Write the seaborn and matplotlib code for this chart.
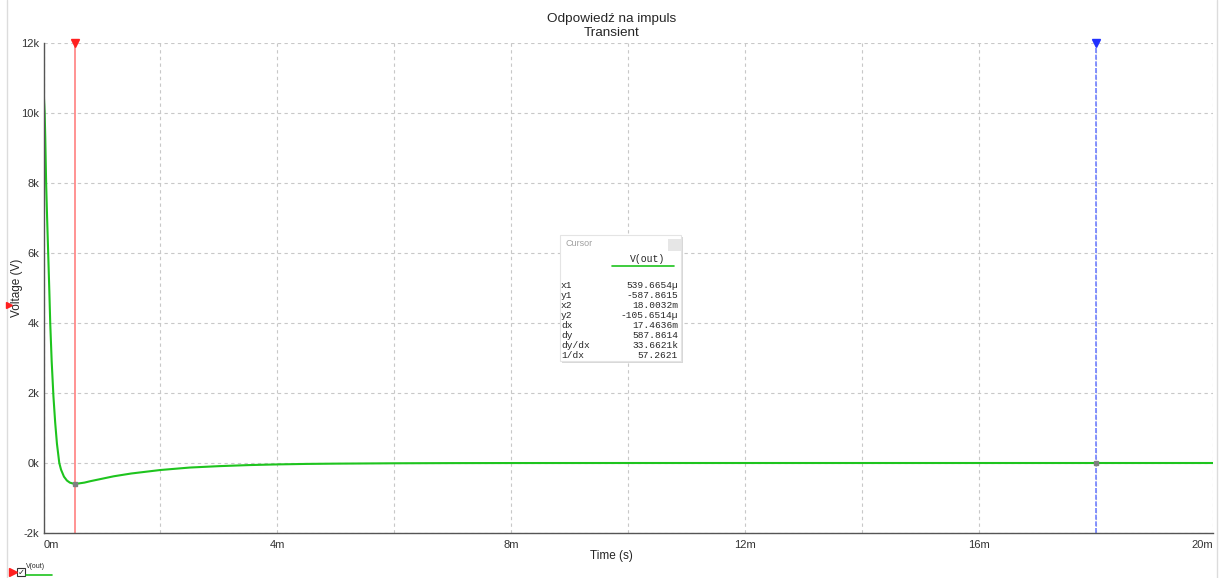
import numpy as np
import matplotlib
matplotlib.use('Agg')
import matplotlib.pyplot as plt
import seaborn as sns
from matplotlib.patches import Rectangle
from matplotlib.lines import Line2D
from matplotlib.ticker import MultipleLocator

## V(out): time in ms, voltage in kV
time_ms = [0, 0.005, 0.01, 0.02, 0.03, 0.045, 0.06, 0.08, 0.10, 0.115, 0.14, 0.17,
           0.20, 0.23, 0.27, 0.30, 0.35, 0.40, 0.45, 0.50, 0.54, 0.60, 0.70, 0.80,
           1.0, 1.2, 1.5, 2.0, 2.5, 3.0, 3.5, 4.0, 4.5, 5.0, 6.0, 7.0, 8.0, 10.0,
           14.0, 20.0]
volt_kv = [10.57, 10.5, 10.35, 10.0, 9.3, 8.0, 7.1, 6.0, 4.9, 4.0, 2.9, 1.9,
           1.15, 0.55, 0.0, -0.19, -0.39, -0.50, -0.56, -0.585, -0.588, -0.585, -0.56, -0.52,
           -0.45, -0.38, -0.30, -0.20, -0.13, -0.09, -0.06, -0.04, -0.026, -0.018, -0.008, -0.003, -0.001, 0.0,
           0.0, 0.0]

## tick positions and labels
x_ticks_ms = [0, 4, 8, 12, 16, 20]
x_tick_labels = ['0m', '4m', '8m', '12m', '16m', '20m']
y_ticks_kv = [-2, 0, 2, 4, 6, 8, 10, 12]
y_tick_labels = ['-2k', '0k', '2k', '4k', '6k', '8k', '10k', '12k']

## cursors (ms, kV) and the cursor panel texts
cursor_t = [0.5396654, 18.0032]
cursor_v = [-0.5878615, 0.0]
cursor_names = ['x1', 'y1', 'x2', 'y2', 'dx', 'dy', 'dy/dx', '1/dx']
cursor_vals = ['539.6654µ', '-587.8615', '18.0032m', '-105.6514µ',
               '17.4636m', '587.8614', '33.6621k', '57.2621']

W, H = 1219, 578
green = '#1ec41e'
mono = ['Liberation Mono', 'DejaVu Sans Mono']

def fx(x):
    return x / W

def fy(y):
    return 1 - y / H

sns.set_style("white")
plt.rcParams['font.family'] = ['Liberation Sans', 'DejaVu Sans']

fig = plt.figure(figsize=(W / 100, H / 100), dpi=100)
ax = fig.add_axes([fx(43.5), fy(533), (1213 - 43.5) / W, (533 - 43) / H])

t = np.array(time_ms) / 1000.0
v = np.array(volt_kv) * 1000.0
sns.lineplot(x=t, y=v, ax=ax, color=green, linewidth=1.5)

ax.set_xlim(0, 0.02)
ax.set_ylim(-2000, 12000)
ax.set_xticks(np.array(x_ticks_ms) / 1000.0, x_tick_labels)
ax.set_yticks(np.array(y_ticks_kv) * 1000.0, y_tick_labels)
ax.xaxis.set_minor_locator(MultipleLocator(0.002))
ax.grid(True, which='both', linestyle=(0, (3, 3)), color='#c8c8c8', linewidth=0.8)
ax.tick_params(which='both', length=0, labelsize=8, labelcolor='#333333')
ax.tick_params(axis='y', pad=3)
ax.tick_params(axis='x', pad=5)
for s in ['top', 'right']:
    ax.spines[s].set_visible(False)
for s in ['left', 'bottom']:
    ax.spines[s].set_color('#555555')
    ax.spines[s].set_linewidth(1.0)
ax.set_xlabel('')
ax.set_ylabel('')

xlabels = ax.get_xticklabels()
xlabels[0].set_horizontalalignment('left')
xlabels[-1].set_horizontalalignment('right')

## cursors
ax.axvline(cursor_t[0] / 1000, color='#ff8080', linewidth=1.2)
ax.axvline(cursor_t[1] / 1000, color='#7080ff', linewidth=1.2, linestyle=(0, (3, 1)))
ax.plot(cursor_t[0] / 1000, 12000, marker='v', color='#ff2020', markersize=5.5, clip_on=False)
ax.plot(cursor_t[1] / 1000, 12000, marker='v', color='#2030ff', markersize=5.5, clip_on=False)
for ct, cv in zip(cursor_t, cursor_v):
    ax.plot(ct / 1000, cv * 1000, marker='s', color='#808080', markersize=3)

## titles and labels
fig.text(fx(612), fy(19), 'Odpowiedź na impuls', ha='center', va='center', fontsize=9.7)
fig.text(fx(612), fy(33), 'Transient', ha='center', va='center', fontsize=9.7)
fig.text(fx(611), fy(556), 'Time (s)', ha='center', va='center', fontsize=8.5)
fig.text(fx(17), fy(288), 'Voltage (V)', ha='center', va='center', fontsize=8.5, rotation=90)

## window borders and side markers
fig.add_artist(Line2D([fx(7), fx(7)], [0, 1], color='#dcdcdc', linewidth=1))
fig.add_artist(Line2D([fx(1217), fx(1217)], [0, 1], color='#dcdcdc', linewidth=1))
fig.add_artist(Line2D([fx(9)], [fy(305)], marker='>', color='#ff2020', markersize=5))
fig.add_artist(Line2D([fx(13)], [fy(572)], marker='>', color='#ff2020', markersize=6))

## legend entry at the bottom left
fig.add_artist(Rectangle((fx(17), fy(576)), 8 / W, 8 / H, facecolor='white',
                         edgecolor='#333333', linewidth=0.8))
fig.text(fx(21), fy(572), '✓', ha='center', va='center', fontsize=6,
         family=['DejaVu Sans'])
fig.text(fx(26), fy(567), 'V(out)', ha='left', va='center', fontsize=5)
fig.add_artist(Line2D([fx(26), fx(52)], [fy(575), fy(575)], color=green, linewidth=1.2))

## cursor panel
fig.add_artist(Rectangle((fx(562), fy(363)), 121 / W, 126 / H, facecolor='#d8d8d8',
                         edgecolor='none'))
fig.add_artist(Rectangle((fx(560), fy(361)), 121 / W, 126 / H, facecolor='white',
                         edgecolor='#e4e4e4', linewidth=0.8))
fig.add_artist(Rectangle((fx(668), fy(251)), 13 / W, 12 / H, facecolor='#e6e6e6',
                         edgecolor='none'))
fig.text(fx(566), fy(244), 'Cursor', ha='left', va='center', fontsize=6.5, color='#a0a0a0')
fig.text(fx(648), fy(259), 'V(out)', ha='center', va='center', fontsize=7, family=mono)
fig.add_artist(Line2D([fx(612), fx(674)], [fy(266), fy(266)], color=green, linewidth=1.2))
row_y = [285, 295, 305, 315, 325, 335, 345, 355]
for name, val, ry in zip(cursor_names, cursor_vals, row_y):
    fig.text(fx(561), fy(ry), name, ha='left', va='center', fontsize=6.8, family=mono)
    fig.text(fx(678), fy(ry), val, ha='right', va='center', fontsize=6.8, family=mono)

fig.savefig('out.png', dpi=100)
